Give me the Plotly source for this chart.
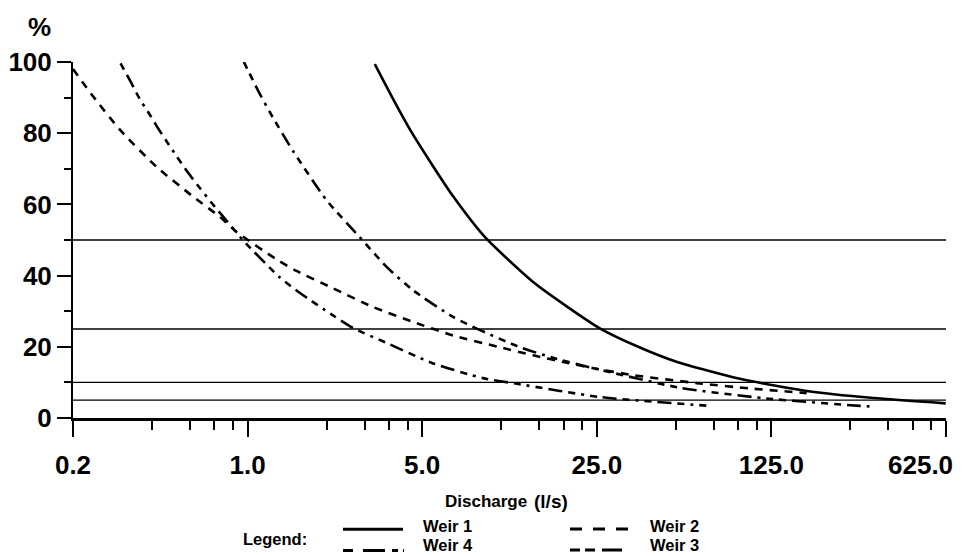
import math
import plotly.graph_objects as go

# ---------------- data ----------------
weir1_q = [3.23, 3.83, 4.47, 5.38, 6.66, 8.92, 13.9, 19.0, 25.7, 37.2, 52.1, 93.4, 173, 321, 623]
weir1_p = [99.4, 89.5, 81, 72, 62.2, 50.8, 38.2, 31.3, 25.2, 19.8, 15.8, 11.0, 7.6, 5.6, 4.1]

weir2_q = [0.2, 0.241, 0.308, 0.431, 0.605, 0.774, 0.902, 1.31, 1.57, 2.19, 3.17, 4.59, 6.64,
           10.2, 13.9, 19.0, 24.2, 35.2, 62.9, 102.5, 173]
weir2_p = [98, 90.3, 81, 70.6, 62.2, 56.5, 52.3, 44.5, 41.3, 36.5, 31.2, 27, 23.2,
           19.9, 17.6, 15.5, 14.0, 12.0, 9.8, 8.3, 7.0]

weir4_q = [0.31, 0.343, 0.37, 0.406, 0.438, 0.473, 0.519, 0.578, 0.644, 0.728, 0.874, 0.956,
           1.34, 1.62, 2.19, 2.64, 3.6, 5.5, 8.76, 12.0, 25.7, 71]
weir4_p = [99.6, 94, 89.6, 85.2, 81.4, 77.8, 73.6, 68.9, 64.6, 59.9, 53.3, 50.0,
           39.6, 35.1, 28.9, 25.3, 21.1, 15.4, 11.2, 9.6, 5.9, 3.4]

weir3_q = [0.966, 1.12, 1.26, 1.52, 2.07, 2.81, 3.61, 4.59, 6.64, 8.52, 12.3, 16.7, 24.2,
           53.7, 119, 283, 325]
weir3_p = [100, 91, 84.5, 75, 61.2, 50.8, 42.4, 35.9, 28.4, 24.7, 19.9, 16.9, 14.0,
           8.5, 5.5, 3.4, 3.2]

ref_levels = [50, 25, 10, 5]

x_tickvals = [0.2, 1, 5, 25, 125, 625]
x_ticktext = ["0.2", "1.0", "5.0", "25.0", "125.0", "625.0"]
minor_mult = [2.07, 2.94, 3.68, 4.37]
y_tickvals = [0, 20, 40, 60, 80, 100]
y_minor = [10, 30, 50, 70, 90]

series = [
    ("Weir 1", weir1_q, weir1_p, "solid"),
    ("Weir 2", weir2_q, weir2_p, "8px,7px"),
    ("Weir 4", weir4_q, weir4_p, "7px,6px,14px,6px,7px,6px,3px,6px"),
    ("Weir 3", weir3_q, weir3_p, "7px,6px,7px,6px,14px,6px,3px,6px"),
]

# ---------------- figure ----------------
W, H = 963, 556
ML, MR, MT, MB = 73, 17, 62, 138
PW, PH = W - ML - MR, H - MT - MB

def px(xp):
    return (xp - ML) / PW

def py(yp):
    return (H - MB - yp) / PH

NUM_FONT = dict(family="Liberation Sans, Arial", size=26, color="black", weight="bold")
BOLD = "Liberation Sans, Arial"

fig = go.Figure()
for name, q, p, dash in series:
    fig.add_trace(go.Scatter(x=q, y=p, mode="lines", name=name, showlegend=False,
                             line=dict(color="black", width=2.6, dash=dash, shape="spline", smoothing=0.6)))

shapes = []
for lv in ref_levels:
    shapes.append(dict(type="line", xref="paper", yref="y", x0=0, x1=1, y0=lv, y1=lv,
                       line=dict(color="black", width=1.3), layer="below"))

# legend samples (drawn manually to reproduce the two-column layout)
leg_items = [
    ("Weir 1", "solid", 343, 403, 529.3, 421, 526),
    ("Weir 4", "10px,10px,22px,7px,6px,5px,2px,99px", 343, 404, 550.5, 421, 545),
    ("Weir 2", "12px,11px", 570, 628, 529, 648, 526),
    ("Weir 3", "10px,5px,10px,7px,20px,9px,2px,99px", 570, 630, 550, 648, 545),
]
annotations = []
for name, dash, x0, x1, yy, tx, ty in leg_items:
    shapes.append(dict(type="line", xref="paper", yref="paper", x0=px(x0), x1=px(x1),
                       y0=py(yy), y1=py(yy), line=dict(color="black", width=3, dash=dash)))
    annotations.append(dict(text=name, xref="paper", yref="paper", x=px(tx), y=py(ty),
                            xanchor="left", yanchor="middle", showarrow=False,
                            font=dict(family=BOLD, size=16.5, color="black", weight="bold")))

# last x tick label sits left of its tick (as in the reference) so it stays inside the page
annotations.append(dict(text=x_ticktext[-1], xref="x", yref="paper", x=math.log10(x_tickvals[-1]),
                        y=py(465), xanchor="right", yanchor="middle", xshift=9, showarrow=False,
                        font=NUM_FONT))

annotations += [
    dict(text="Legend:", xref="paper", yref="paper", x=px(241), y=py(539), xanchor="left",
         yanchor="middle", showarrow=False, font=dict(family=BOLD, size=16.5, color="black", weight="bold")),
    dict(text="Discharge", xref="paper", yref="paper", x=px(443), y=py(502), xanchor="left",
         yanchor="middle", showarrow=False, font=dict(family=BOLD, size=17, color="black", weight="bold")),
    dict(text="(l/s)", xref="paper", yref="paper", x=px(532), y=py(501), xanchor="left",
         yanchor="middle", showarrow=False, font=dict(family=BOLD, size=19, color="black", weight="bold")),
    dict(text="%", xref="paper", yref="paper", x=px(39), y=py(27), xanchor="center",
         yanchor="middle", showarrow=False, font=NUM_FONT),
]

x_minor = [m * k for m in x_tickvals[:-1] for k in minor_mult]

fig.update_layout(
    width=W, height=H, autosize=False,
    margin=dict(l=ML, r=MR, t=MT, b=MB),
    paper_bgcolor="white", plot_bgcolor="white",
    shapes=shapes, annotations=annotations,
    xaxis=dict(type="log", range=[math.log10(0.2), math.log10(625)], automargin=False,
               tickmode="array", tickvals=x_tickvals, ticktext=x_ticktext[:-1] + [""],
               ticks="outside", ticklen=16, tickwidth=1.5, tickcolor="black",
               ticklabelstandoff=6,
               minor=dict(tickvals=x_minor, ticks="outside", ticklen=9, tickwidth=1.5, tickcolor="black", showgrid=False),
               showline=True, linewidth=2.5, linecolor="black", showgrid=False, zeroline=False,
               tickfont=NUM_FONT),
    yaxis=dict(range=[0, 100], tickmode="array", tickvals=y_tickvals, automargin=False,
               ticks="outside", ticklen=14, tickwidth=1.5, tickcolor="black",
               minor=dict(tickvals=y_minor, ticks="outside", ticklen=7, tickwidth=1.5, tickcolor="black", showgrid=False),
               showline=True, linewidth=2, linecolor="black", showgrid=False, zeroline=False,
               tickfont=NUM_FONT),
)

fig.write_html("out.html", config={"displayModeBar": False},
               post_script="document.body.style.margin='0';")
